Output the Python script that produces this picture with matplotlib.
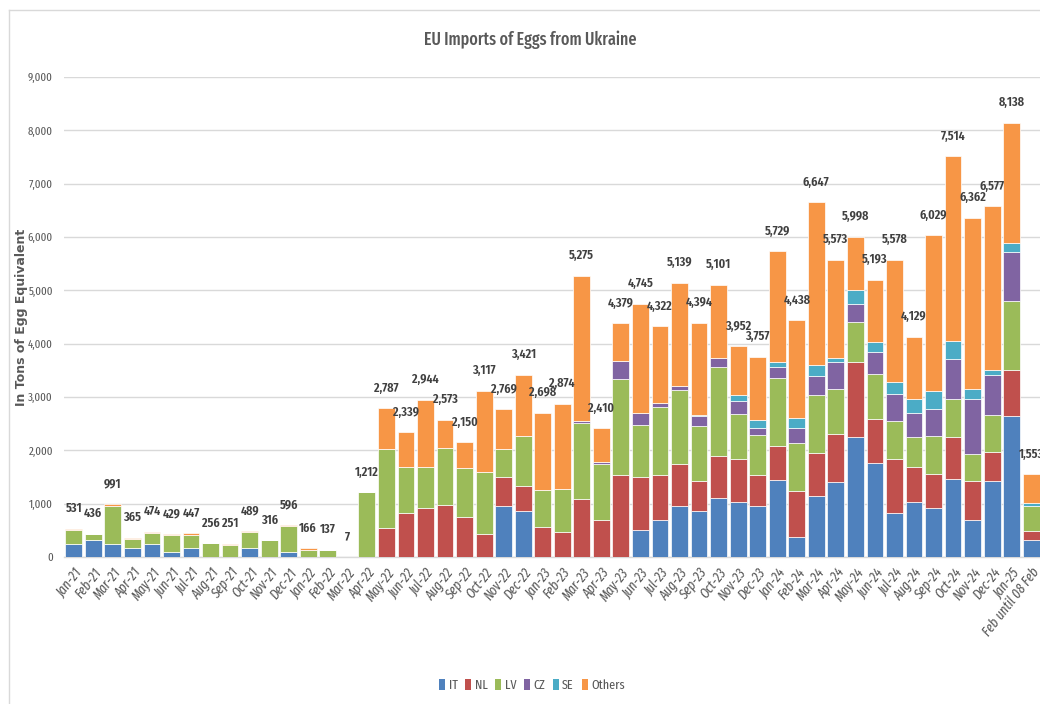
import matplotlib
matplotlib.use("Agg")
import matplotlib.pyplot as plt
import numpy as np
from matplotlib.patches import Patch
from matplotlib.lines import Line2D

# ---------------------------------------------------------------------------
# Data (tons of egg equivalent)
# ---------------------------------------------------------------------------
months = [
    "Jan-21", "Feb-21", "Mar-21", "Apr-21", "May-21", "Jun-21", "Jul-21", "Aug-21",
    "Sep-21", "Oct-21", "Nov-21", "Dec-21", "Jan-22", "Feb-22", "Mar-22", "Apr-22",
    "May-22", "Jun-22", "Jul-22", "Aug-22", "Sep-22", "Oct-22", "Nov-22", "Dec-22",
    "Jan-23", "Feb-23", "Mar-23", "Apr-23", "May-23", "Jun-23", "Jul-23", "Aug-23",
    "Sep-23", "Oct-23", "Nov-23", "Dec-23", "Jan-24", "Feb-24", "Mar-24", "Apr-24",
    "May-24", "Jun-24", "Jul-24", "Aug-24", "Sep-24", "Oct-24", "Nov-24", "Dec-24",
    "Jan-25", "Feb until 08 Feb",
]

it = [250, 313, 250, 170, 250, 94, 170, 0, 0, 170, 0, 94, 0, 0, 0, 0,
      0, 0, 0, 0, 0, 0, 957, 864, 0, 0, 0, 0, 0, 501, 688, 957,
      864, 1114, 1033, 951, 1452, 375, 1139, 1414, 2247, 1771, 826, 1033, 926, 1464, 701, 1427,
      2641, 313]
nl = [0, 0, 0, 0, 0, 0, 0, 0, 0, 0, 0, 0, 0, 0, 0, 0,
      544, 832, 926, 970, 751, 438, 545, 475, 563, 476, 1089, 701, 1546, 1001, 858, 795,
      563, 782, 801, 588, 632, 864, 820, 895, 1414, 820, 1008, 657, 638, 783, 726, 550,
      863, 175]
lv = [255, 123, 714, 170, 200, 313, 250, 256, 226, 290, 316, 482, 140, 137, 7, 1212,
      1477, 858, 764, 1076, 926, 1152, 519, 933, 695, 807, 1427, 1045, 1789, 970, 1264, 1383,
      1032, 1671, 844, 751, 1276, 907, 1070, 845, 751, 832, 725, 557, 708, 719, 513, 683,
      1296, 463]
cz = [0, 0, 0, 0, 0, 0, 0, 0, 0, 0, 0, 0, 0, 0, 0, 0,
      0, 0, 0, 0, 0, 0, 0, 0, 0, 0, 31, 31, 332, 231, 81, 75,
      182, 169, 251, 126, 207, 282, 369, 507, 325, 426, 489, 456, 506, 739, 1026, 744,
      926, 0]
se = [0, 0, 0, 0, 0, 0, 0, 0, 0, 0, 0, 0, 0, 0, 0, 0,
      0, 0, 0, 0, 0, 0, 0, 0, 0, 0, 0, 0, 0, 0, 0, 0,
      19, 0, 100, 162, 88, 182, 207, 75, 276, 187, 231, 263, 332, 350, 188, 100,
      169, 63]
others = [26, 0, 27, 25, 24, 22, 27, 0, 25, 29, 0, 20, 26, 0, 0, 0,
          766, 649, 1254, 527, 473, 1527, 748, 1149, 1440, 1591, 2728, 633, 712, 2042, 1431, 1929,
          1734, 1365, 923, 1179, 2074, 1828, 3042, 1837, 985, 1157, 2299, 1163, 2919, 3459, 3208, 3073,
          2243, 539]

totals = [531, 436, 991, 365, 474, 429, 447, 256, 251, 489, 316, 596, 166, 137, 7, 1212,
          2787, 2339, 2944, 2573, 2150, 3117, 2769, 3421, 2698, 2874, 5275, 2410, 4379, 4745, 4322, 5139,
          4394, 5101, 3952, 3757, 5729, 4438, 6647, 5573, 5998, 5193, 5578, 4129, 6029, 7514, 6362, 6577,
          8138, 1553]

series = [("IT", it), ("NL", nl), ("LV", lv), ("CZ", cz), ("SE", se), ("Others", others)]
colors = ["#4F81BD", "#C0504D", "#9BBB59", "#8064A2", "#4BACC6", "#F79646"]

narrow = ["Fira Sans Extra Condensed", "DejaVu Sans"]
grey = "#595959"

# ---------------------------------------------------------------------------
# Figure
# ---------------------------------------------------------------------------
fig = plt.figure(figsize=(10.4, 7.04), dpi=100)
fig.patch.set_facecolor("white")
ax = fig.add_axes([64 / 1040, 1 - 557 / 704, 977 / 1040, 480 / 704])

x = np.arange(len(months))
bottom = np.zeros(len(months))
for (name, vals), col in zip(series, colors):
    vals = np.array(vals, dtype=float)
    ax.bar(x, vals, 0.86, bottom=bottom, color=col, edgecolor="white",
           linewidth=0.5, label=name, zorder=3)
    bottom += vals

for xi, t in zip(x, totals):
    ax.annotate(f"{t:,}", (xi, t), xytext=(0, 14), textcoords="offset pixels",
                ha="center", va="bottom", fontsize=9.5, fontweight="semibold",
                color="#404040", family=narrow, annotation_clip=False)

ax.set_xlim(-0.5, 49.5)
ax.set_ylim(0, 9000)
ax.set_yticks(np.arange(0, 9001, 1000))
ax.set_yticklabels([f"{v:,}" for v in range(0, 9001, 1000)], family=narrow,
                   fontsize=8.5, color=grey)
ax.set_xticks(x)
ax.set_xticklabels(months, rotation=52, ha="right", rotation_mode="anchor",
                   family=narrow, fontsize=10, style="italic", color=grey)
ax.tick_params(axis="both", length=0)
ax.tick_params(axis="y", pad=8)
ax.tick_params(axis="x", pad=6)
ax.grid(axis="y", color="#D9D9D9", linewidth=1, zorder=0)
for s in ["top", "right", "left"]:
    ax.spines[s].set_visible(False)
ax.spines["bottom"].set_color("#D9D9D9")
ax.spines["bottom"].set_linewidth(1)

fig.text(22 / 1040, 1 - 317 / 704, "In Tons of Egg Equivalent", rotation=90,
         ha="center", va="center", fontsize=9, fontweight="bold", color=grey)

fig.text(530 / 1040, 1 - 40 / 704, "EU Imports of Eggs from Ukraine", ha="center",
         va="center", fontsize=12.5, fontweight="medium", color=grey, family=narrow)

handles = [Patch(facecolor=c, edgecolor="none", label=n) for (n, _), c in zip(series, colors)]
fig.legend(handles=handles, loc="center", bbox_to_anchor=(532 / 1040, 1 - 685 / 704),
           ncol=6, frameon=False, handlelength=0.45, handleheight=0.9,
           handletextpad=0.25, columnspacing=0.6,
           prop={"family": narrow, "size": 9.5}, labelcolor=grey)

# chart-area border (top and left visible in the reference)
fig.add_artist(Line2D([9 / 1040, 1.0], [1 - 10 / 704, 1 - 10 / 704],
                      transform=fig.transFigure, color="#D9D9D9", linewidth=1))
fig.add_artist(Line2D([9 / 1040, 9 / 1040], [0, 1 - 10 / 704],
                      transform=fig.transFigure, color="#D9D9D9", linewidth=1))

fig.savefig("out.png", dpi=100, facecolor="white")
